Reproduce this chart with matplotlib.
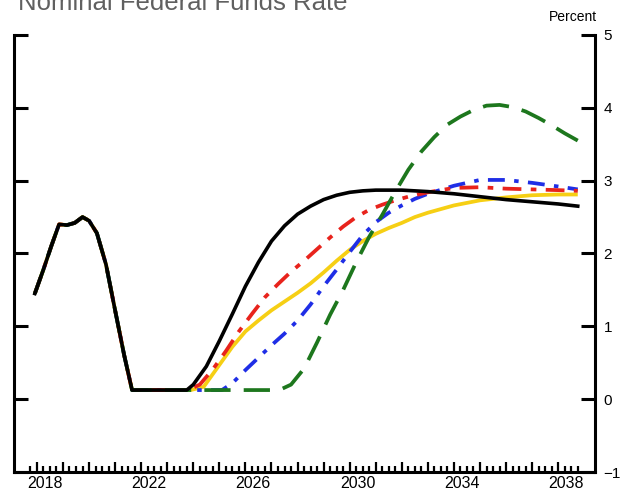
import numpy as np
import matplotlib.pyplot as plt
from matplotlib.ticker import FixedLocator

plt.rcParams['font.family'] = ['Liberation Sans', 'DejaVu Sans']

# Спільна історія ставки
hist_years = [2017.92, 2018.25, 2018.55, 2018.85, 2019.15, 2019.45, 2019.75,
              2020.0, 2020.3, 2020.65, 2021.0, 2021.35, 2021.65]
hist_vals = [1.45, 1.78, 2.1, 2.4, 2.39, 2.42, 2.5,
             2.45, 2.28, 1.85, 1.22, 0.6, 0.125]

# Сценарії (прогноз після історії)
black_years = [2021.75, 2023.75, 2024.0, 2024.5, 2025.0, 2025.5, 2026.0, 2026.5,
               2027.0, 2027.5, 2028.0, 2028.5, 2029.0, 2029.5, 2030.0, 2030.5,
               2031.0, 2031.5, 2032.0, 2033.0, 2034.0, 2035.0, 2036.0, 2037.0,
               2038.0, 2038.75]
black_vals = [0.125, 0.125, 0.2, 0.45, 0.8, 1.17, 1.55, 1.88,
              2.17, 2.38, 2.54, 2.65, 2.74, 2.8, 2.84, 2.86,
              2.87, 2.87, 2.87, 2.85, 2.82, 2.78, 2.74, 2.71,
              2.68, 2.65]

red_years = [2021.75, 2023.8, 2024.25, 2024.75, 2025.25, 2025.75, 2026.25, 2026.75,
             2027.25, 2027.75, 2028.25, 2028.75, 2029.25, 2029.75, 2030.25, 2030.75,
             2031.25, 2031.75, 2032.25, 2033.0, 2034.0, 2035.0, 2036.0, 2037.0,
             2038.0, 2038.75]
red_vals = [0.125, 0.125, 0.2, 0.41, 0.66, 0.93, 1.17, 1.4,
            1.58, 1.75, 1.9, 2.06, 2.22, 2.37, 2.5, 2.6,
            2.67, 2.73, 2.78, 2.84, 2.9, 2.91, 2.89, 2.88,
            2.87, 2.86]

yellow_years = [2021.75, 2023.9, 2024.4, 2025.0, 2025.5, 2026.0, 2026.5, 2027.0,
                2027.5, 2028.0, 2028.5, 2029.0, 2029.5, 2030.0, 2030.5, 2031.0,
                2031.5, 2032.0, 2032.5, 2033.0, 2034.0, 2035.0, 2036.0, 2037.0,
                2038.0, 2038.75]
yellow_vals = [0.125, 0.125, 0.17, 0.47, 0.72, 0.93, 1.08, 1.22,
               1.34, 1.46, 1.59, 1.74, 1.9, 2.05, 2.17, 2.27,
               2.35, 2.42, 2.5, 2.56, 2.66, 2.73, 2.77, 2.8,
               2.81, 2.81]

blue_years = [2021.75, 2025.1, 2025.5, 2026.0, 2026.5, 2027.0, 2027.5, 2028.0,
              2028.5, 2029.0, 2029.5, 2030.0, 2030.5, 2031.0, 2031.5, 2032.0,
              2032.5, 2033.0, 2034.0, 2035.0, 2036.0, 2037.0, 2038.0, 2038.75]
blue_vals = [0.125, 0.125, 0.22, 0.4, 0.57, 0.74, 0.9, 1.08,
             1.3, 1.55, 1.78, 2.02, 2.25, 2.43, 2.56, 2.66,
             2.75, 2.82, 2.93, 3.01, 3.01, 2.97, 2.92, 2.88]

green_years = [2021.75, 2027.3, 2027.75, 2028.25, 2028.75, 2029.25, 2029.75, 2030.25,
               2030.75, 2031.25, 2031.75, 2032.25, 2032.75, 2033.25, 2033.75, 2034.25,
               2034.75, 2035.25, 2035.75, 2036.25, 2036.75, 2037.25, 2037.75, 2038.25,
               2038.75]
green_vals = [0.125, 0.125, 0.2, 0.42, 0.78, 1.16, 1.5, 1.88,
              2.23, 2.53, 2.85, 3.15, 3.4, 3.6, 3.77, 3.88,
              3.97, 4.03, 4.04, 4.01, 3.95, 3.86, 3.76, 3.65,
              3.55]

year_labels = [2018, 2022, 2026, 2030, 2034, 2038]
y_ticks = [-1, 0, 1, 2, 3, 4, 5]


def full(years, vals):
    return hist_years + years, hist_vals + vals


fig = plt.figure(figsize=(6.27, 4.97), dpi=100)
ax = fig.add_axes([0.0223, 0.0503, 0.927, 0.8793])

lw = 2.7
x, y = full(yellow_years, yellow_vals)
ax.plot(x, y, color='#f6cf14', lw=lw, solid_capstyle='butt')
x, y = full(blue_years, blue_vals)
ax.plot(x, y, color='#1f2ee6', lw=lw, linestyle=(0, (4.5, 2.5, 1.2, 2.5)))
x, y = full(red_years, red_vals)
ax.plot(x, y, color='#e8231c', lw=lw, linestyle=(0, (5, 2.5, 1.5, 2.5)))
x, y = full(green_years, green_vals)
ax.plot(x, y, color='#1d771d', lw=lw, linestyle=(0, (7, 3.5)))
x, y = full(black_years, black_vals)
ax.plot(x, y, color='black', lw=2.6)

ax.set_xlim(2017.12, 2039.42)
ax.set_ylim(-1, 5)

for s in ['left', 'right', 'bottom']:
    ax.spines[s].set_linewidth(2.2)
ax.spines['top'].set_visible(False)

# y: ticks on both sides, labels on the right
ax.set_yticks(y_ticks)
ax.yaxis.set_ticks_position('both')
ax.tick_params(axis='y', direction='in', length=10, width=2.2,
               labelleft=False, labelright=True, labelsize=11, pad=6)

# x: tall ticks every year, short ticks every quarter
ax.xaxis.set_major_locator(FixedLocator(np.arange(2018, 2039)))
ax.xaxis.set_minor_locator(FixedLocator(np.arange(2017.75, 2038.8, 0.25)))
ax.tick_params(axis='x', which='major', direction='in', length=7.5, width=1.6,
               labelbottom=False)
ax.tick_params(axis='x', which='minor', direction='in', length=4.5, width=1.6)

for yr in year_labels:
    ax.annotate(str(yr), xy=(yr + 0.3, 0), xycoords=('data', 'axes fraction'),
                xytext=(0, -3), textcoords='offset points',
                ha='center', va='top', fontsize=11.5)

fig.text(0.952, 1 - 17 / 497, 'Percent', ha='right', va='center', fontsize=10)
fig.text(18 / 627, 1 - 10 / 497, 'Nominal Federal Funds Rate', ha='left',
         va='baseline', fontsize=18.5, color='#606060')

fig.savefig('out.png', dpi=100)
